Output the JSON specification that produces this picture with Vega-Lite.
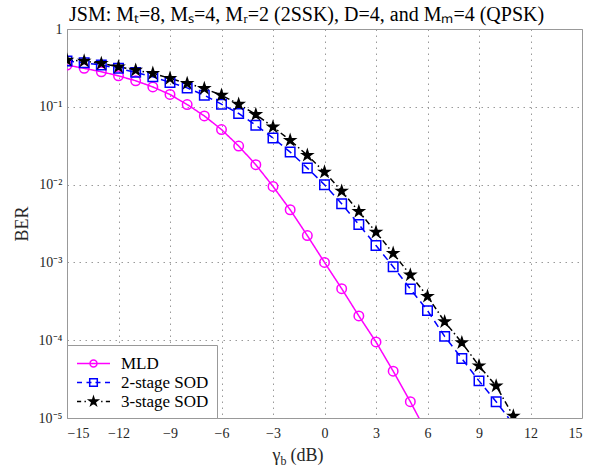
{
  "$schema": "https://vega.github.io/schema/vega-lite/v6.json",
  "width": 515,
  "height": 389,
  "autosize": {"type": "none"},
  "padding": {"left": 67, "top": 29, "right": 11, "bottom": 52},
  "background": "white",
  "config": {
    "font": "Liberation Serif",
    "view": {"stroke": "#999999", "strokeWidth": 1},
    "axis": {
      "labelFont": "Liberation Serif",
      "titleFont": "Liberation Serif",
      "labelColor": "#262626",
      "titleColor": "#262626",
      "labelFontSize": 14,
      "titleFontSize": 18,
      "titleFontWeight": "normal",
      "domain": false,
      "ticks": false,
      "gridColor": "#9a9a9a",
      "gridDash": [1.5, 4.5],
      "gridWidth": 1
    },
    "legend": {
      "labelFont": "Liberation Serif",
      "labelFontSize": 17,
      "labelColor": "#000000"
    }
  },
  "title": {
    "text": "JSM: Mₜ=8, Mₛ=4, Mᵣ=2 (2SSK), D=4, and Mₘ=4 (QPSK)",
    "anchor": "start",
    "frame": "group",
    "offset": -3,
    "dx": 2,
    "fontSize": 20,
    "font": "Liberation Serif",
    "fontWeight": "normal",
    "color": "#000000"
  },
  "data": {
    "values": [
      {"snr": -15, "ber": 0.344, "method": "MLD"},
      {"snr": -14, "ber": 0.312, "method": "MLD"},
      {"snr": -13, "ber": 0.282, "method": "MLD"},
      {"snr": -12, "ber": 0.250, "method": "MLD"},
      {"snr": -11, "ber": 0.216, "method": "MLD"},
      {"snr": -10, "ber": 0.180, "method": "MLD"},
      {"snr": -9, "ber": 0.144, "method": "MLD"},
      {"snr": -8, "ber": 0.107, "method": "MLD"},
      {"snr": -7, "ber": 0.0763, "method": "MLD"},
      {"snr": -6, "ber": 0.0510, "method": "MLD"},
      {"snr": -5, "ber": 0.0313, "method": "MLD"},
      {"snr": -4, "ber": 0.0180, "method": "MLD"},
      {"snr": -3, "ber": 0.00948, "method": "MLD"},
      {"snr": -2, "ber": 0.00475, "method": "MLD"},
      {"snr": -1, "ber": 0.00221, "method": "MLD"},
      {"snr": 0, "ber": 0.00100, "method": "MLD"},
      {"snr": 1, "ber": 0.00046, "method": "MLD"},
      {"snr": 2, "ber": 0.000205, "method": "MLD"},
      {"snr": 3, "ber": 0.000095, "method": "MLD"},
      {"snr": 4, "ber": 0.000040, "method": "MLD"},
      {"snr": 5, "ber": 0.0000162, "method": "MLD"},
      {"snr": 6, "ber": 0.0000062, "method": "MLD"},
      {"snr": -15, "ber": 0.387, "method": "2-stage SOD"},
      {"snr": -14, "ber": 0.368, "method": "2-stage SOD"},
      {"snr": -13, "ber": 0.344, "method": "2-stage SOD"},
      {"snr": -12, "ber": 0.312, "method": "2-stage SOD"},
      {"snr": -11, "ber": 0.277, "method": "2-stage SOD"},
      {"snr": -10, "ber": 0.243, "method": "2-stage SOD"},
      {"snr": -9, "ber": 0.206, "method": "2-stage SOD"},
      {"snr": -8, "ber": 0.175, "method": "2-stage SOD"},
      {"snr": -7, "ber": 0.141, "method": "2-stage SOD"},
      {"snr": -6, "ber": 0.108, "method": "2-stage SOD"},
      {"snr": -5, "ber": 0.082, "method": "2-stage SOD"},
      {"snr": -4, "ber": 0.058, "method": "2-stage SOD"},
      {"snr": -3, "ber": 0.0397, "method": "2-stage SOD"},
      {"snr": -2, "ber": 0.0262, "method": "2-stage SOD"},
      {"snr": -1, "ber": 0.0163, "method": "2-stage SOD"},
      {"snr": 0, "ber": 0.00997, "method": "2-stage SOD"},
      {"snr": 1, "ber": 0.00567, "method": "2-stage SOD"},
      {"snr": 2, "ber": 0.00307, "method": "2-stage SOD"},
      {"snr": 3, "ber": 0.00165, "method": "2-stage SOD"},
      {"snr": 4, "ber": 0.00088, "method": "2-stage SOD"},
      {"snr": 5, "ber": 0.000456, "method": "2-stage SOD"},
      {"snr": 6, "ber": 0.00024, "method": "2-stage SOD"},
      {"snr": 7, "ber": 0.000112, "method": "2-stage SOD"},
      {"snr": 8, "ber": 0.000058, "method": "2-stage SOD"},
      {"snr": 9, "ber": 0.000030, "method": "2-stage SOD"},
      {"snr": 10, "ber": 0.0000162, "method": "2-stage SOD"},
      {"snr": 11, "ber": 0.0000083, "method": "2-stage SOD"},
      {"snr": -15, "ber": 0.399, "method": "3-stage SOD"},
      {"snr": -14, "ber": 0.387, "method": "3-stage SOD"},
      {"snr": -13, "ber": 0.361, "method": "3-stage SOD"},
      {"snr": -12, "ber": 0.327, "method": "3-stage SOD"},
      {"snr": -11, "ber": 0.296, "method": "3-stage SOD"},
      {"snr": -10, "ber": 0.269, "method": "3-stage SOD"},
      {"snr": -9, "ber": 0.232, "method": "3-stage SOD"},
      {"snr": -8, "ber": 0.200, "method": "3-stage SOD"},
      {"snr": -7, "ber": 0.172, "method": "3-stage SOD"},
      {"snr": -6, "ber": 0.141, "method": "3-stage SOD"},
      {"snr": -5, "ber": 0.108, "method": "3-stage SOD"},
      {"snr": -4, "ber": 0.0796, "method": "3-stage SOD"},
      {"snr": -3, "ber": 0.0551, "method": "3-stage SOD"},
      {"snr": -2, "ber": 0.0371, "method": "3-stage SOD"},
      {"snr": -1, "ber": 0.0238, "method": "3-stage SOD"},
      {"snr": 0, "ber": 0.0145, "method": "3-stage SOD"},
      {"snr": 1, "ber": 0.00824, "method": "3-stage SOD"},
      {"snr": 2, "ber": 0.00452, "method": "3-stage SOD"},
      {"snr": 3, "ber": 0.00245, "method": "3-stage SOD"},
      {"snr": 4, "ber": 0.00131, "method": "3-stage SOD"},
      {"snr": 5, "ber": 0.00069, "method": "3-stage SOD"},
      {"snr": 6, "ber": 0.000366, "method": "3-stage SOD"},
      {"snr": 7, "ber": 0.000173, "method": "3-stage SOD"},
      {"snr": 8, "ber": 0.000093, "method": "3-stage SOD"},
      {"snr": 9, "ber": 0.0000468, "method": "3-stage SOD"},
      {"snr": 10, "ber": 0.0000258, "method": "3-stage SOD"},
      {"snr": 11, "ber": 0.0000106, "method": "3-stage SOD"}
    ]
  },
  "layer": [
    {
      "mark": {"type": "line", "clip": true, "strokeWidth": 1.5},
      "encoding": {
        "x": {
          "field": "snr", "type": "quantitative",
          "scale": {"domain": [-15, 15], "nice": false, "zero": false},
          "axis": {
            "orient": "bottom",
            "values": [-15, -12, -9, -6, -3, 0, 3, 6, 9, 12, 15],
            "labelFont": "Liberation Serif",
            "labelFontSize": 14,
            "labelPadding": 8,
            "grid": true,
            "title": "γ",
            "titleX": 205,
            "titleY": 42,
            "titleAlign": "left",
            "titleBaseline": "alphabetic"
          }
        },
        "y": {
          "field": "ber", "type": "quantitative",
          "scale": {"type": "log", "domain": [0.00001, 1], "nice": false},
          "axis": {
            "values": [0.00001, 0.0001, 0.001, 0.01, 0.1, 1],
            "labelExpr": "datum.value > 0.5 ? '1' : datum.value > 0.05 ? '10⁻¹' : datum.value > 0.005 ? '10⁻²' : datum.value > 0.0005 ? '10⁻³' : datum.value > 0.00005 ? '10⁻⁴' : '10⁻⁵'",
            "labelFont": "Liberation Serif",
            "labelFontSize": 14,
            "labelPadding": 5,
            "grid": true,
            "title": "BER",
            "titleX": -45,
            "titleY": 194.5,
            "titleAngle": -90,
            "titleAlign": "center",
            "titleBaseline": "middle"
          }
        },
        "color": {
          "field": "method", "type": "nominal",
          "scale": {"domain": ["MLD", "2-stage SOD", "3-stage SOD"], "range": ["#ff00ff", "#0000ff", "#000000"]},
          "legend": null
        },
        "strokeDash": {
          "field": "method", "type": "nominal",
          "scale": {"domain": ["MLD", "2-stage SOD", "3-stage SOD"], "range": [[1, 0], [7, 5], [6, 3, 1.5, 3]]},
          "legend": null
        }
      }
    },
    {
      "mark": {"type": "point", "clip": true, "strokeWidth": 1.5, "size": 90, "opacity": 1},
      "encoding": {
        "x": {
          "field": "snr", "type": "quantitative",
          "axis": {
            "orient": "bottom",
            "labels": false, "ticks": false, "domain": false, "grid": false,
            "title": "b",
            "titleFontSize": 12,
            "titleX": 213,
            "titleY": 46,
            "titleAlign": "left",
            "titleBaseline": "alphabetic"
          }
        },
        "y": {"field": "ber", "type": "quantitative"},
        "shape": {
          "field": "method", "type": "nominal",
          "scale": {"domain": ["MLD", "2-stage SOD", "3-stage SOD"], "range": ["circle", "square", "M0,-1.12L0.251,-0.346L1.065,-0.346L0.406,0.132L0.658,0.906L0,0.428L-0.658,0.906L-0.406,0.132L-1.065,-0.346L-0.251,-0.346Z"]},
          "legend": null
        },
        "stroke": {
          "field": "method", "type": "nominal",
          "scale": {"domain": ["MLD", "2-stage SOD", "3-stage SOD"], "range": ["#ff00ff", "#0000ff", "#000000"]},
          "legend": null
        },
        "fill": {
          "field": "method", "type": "nominal",
          "scale": {"domain": ["MLD", "2-stage SOD", "3-stage SOD"], "range": ["transparent", "transparent", "#000000"]},
          "legend": null
        }
      }
    },
    {
      "transform": [{"filter": "false"}],
      "mark": {"type": "point", "size": 361, "strokeWidth": 1.5, "opacity": 1},
      "encoding": {
        "x": {
          "field": "snr", "type": "quantitative",
          "axis": {
            "orient": "bottom",
            "labels": false, "ticks": false, "domain": false, "grid": false,
            "title": "(dB)",
            "titleX": 223,
            "titleY": 42,
            "titleAlign": "left",
            "titleBaseline": "alphabetic"
          }
        },
        "stroke": {
          "field": "method", "type": "nominal",
          "scale": {"domain": ["MLD", "2-stage SOD", "3-stage SOD"], "range": ["#ff00ff", "#0000ff", "#000000"]}
        },
        "fill": {
          "field": "method", "type": "nominal",
          "scale": {"domain": ["MLD", "2-stage SOD", "3-stage SOD"], "range": ["transparent", "transparent", "#000000"]}
        },
        "shape": {
          "field": "method", "type": "nominal",
          "scale": {"domain": ["MLD", "2-stage SOD", "3-stage SOD"], "range": [
            "M-1.737,0H1.737M0.368,0A0.368,0.368,0,1,1,-0.368,0A0.368,0.368,0,1,1,0.368,0",
            "M-1.737,0H-1.211M-0.737,0H-0.211M0.211,0H0.737M1.211,0H1.737M-0.4,-0.4H0.4V0.4H-0.4Z",
            "M-1.737,0H-1.3M-0.95,0H-0.8M0.8,0H0.95M1.3,0H1.737M0,-0.474L0.106,-0.146L0.451,-0.146L0.172,0.056L0.279,0.383L0,0.181L-0.279,0.383L-0.172,0.056L-0.451,-0.146L-0.106,-0.146Z"
          ]},
          "legend": {
            "title": null,
            "orient": "bottom-left",
            "offset": 0,
            "padding": 8,
            "symbolOffset": 8,
            "labelOffset": 17,
            "rowPadding": 0,
            "symbolSize": 361,
            "symbolStrokeWidth": 1.5,
            "symbolOpacity": 1,
            "strokeColor": "#999999",
            "fillColor": "white",
            "cornerRadius": 0
          }
        }
      }
    }
  ],
  "resolve": {
    "scale": {"shape": "independent", "stroke": "independent", "fill": "independent"},
    "legend": {"shape": "independent", "stroke": "independent", "fill": "independent"},
    "axis": {"x": "independent"}
  }
}
